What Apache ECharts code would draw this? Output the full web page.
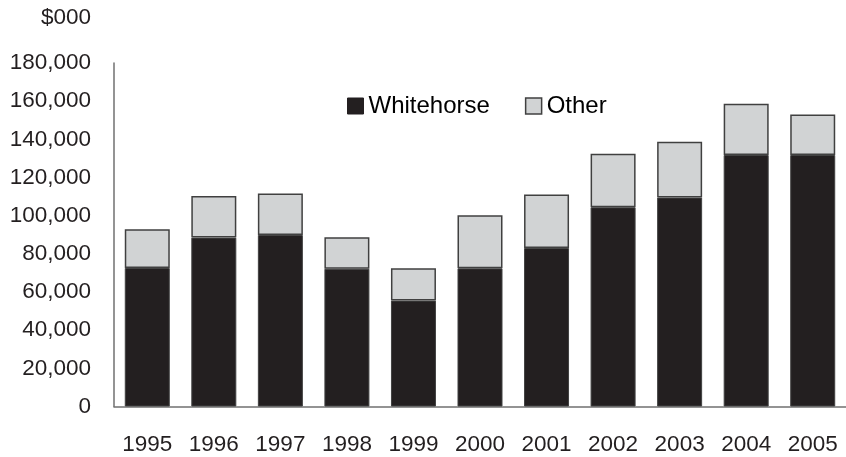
<!DOCTYPE html>
<html>
<head>
<meta charset="utf-8">
<script src="https://cdn.jsdelivr.net/npm/echarts@6/dist/echarts.min.js"></script>
<style>
html,body{margin:0;padding:0;background:#fff;}
#chart{width:846px;height:457px;}
</style>
</head>
<body>
<div id="chart"></div>
<script>
var years = ['1995','1996','1997','1998','1999','2000','2001','2002','2003','2004','2005'];
var whitehorse = [72600, 88500, 89900, 72200, 55500, 72400, 83100, 104400, 109500, 131800, 131800];
var other = [20300, 21800, 21700, 16500, 16900, 27800, 28000, 28000, 29200, 26800, 21200];
var yTicks = { min: 0, max: 180000, interval: 20000 };

var FONT = '"Liberation Sans", Arial, sans-serif';
var chart = echarts.init(document.getElementById('chart'), null, { renderer: 'canvas' });
chart.setOption({
  animation: false,
  backgroundColor: '#ffffff',
  textStyle: { fontFamily: FONT },
  grid: { left: 114, top: 63, width: 738, height: 343.5, containLabel: false },
  legend: {
    left: 342, top: 89,
    itemWidth: 16, itemHeight: 16, itemGap: 35,
    textStyle: { fontSize: 24, color: '#000', fontFamily: FONT },
    data: [
      { name: 'Whitehorse', icon: 'rect', itemStyle: { color: '#231f20', borderColor: '#231f20', borderWidth: 1 } },
      { name: 'Other', icon: 'rect', itemStyle: { color: '#d1d3d4', borderColor: '#404040', borderWidth: 1.5 } }
    ]
  },
  graphic: [{
    type: 'text', x: 91, y: 18,
    style: { text: '$000', textAlign: 'right', textVerticalAlign: 'middle', fontSize: 22.5, fontFamily: FONT, fill: '#231f20' }
  }],
  xAxis: {
    type: 'category', data: years,
    axisLine: { show: true, lineStyle: { color: '#707070', width: 1.5 } },
    axisTick: { show: false },
    axisLabel: { fontSize: 22.5, color: '#231f20', margin: 27, fontFamily: FONT, interval: 0 }
  },
  yAxis: {
    type: 'value', min: yTicks.min, max: yTicks.max, interval: yTicks.interval,
    axisLine: { show: true, lineStyle: { color: '#707070', width: 1.5 } },
    axisTick: { show: false },
    splitLine: { show: false },
    axisLabel: {
      fontSize: 22.5, color: '#231f20', margin: 23, fontFamily: FONT,
      formatter: function (v) { return v.toLocaleString('en-US'); }
    }
  },
  series: [
    { name: 'Whitehorse', type: 'bar', stack: 't', barWidth: 45, data: whitehorse,
      itemStyle: { color: '#231f20', borderColor: '#404040', borderWidth: 1 } },
    { name: 'Other', type: 'bar', stack: 't', barWidth: 45, data: other,
      itemStyle: { color: '#d1d3d4', borderColor: '#404040', borderWidth: 1.5 } }
  ]
});
</script>
</body>
</html>
